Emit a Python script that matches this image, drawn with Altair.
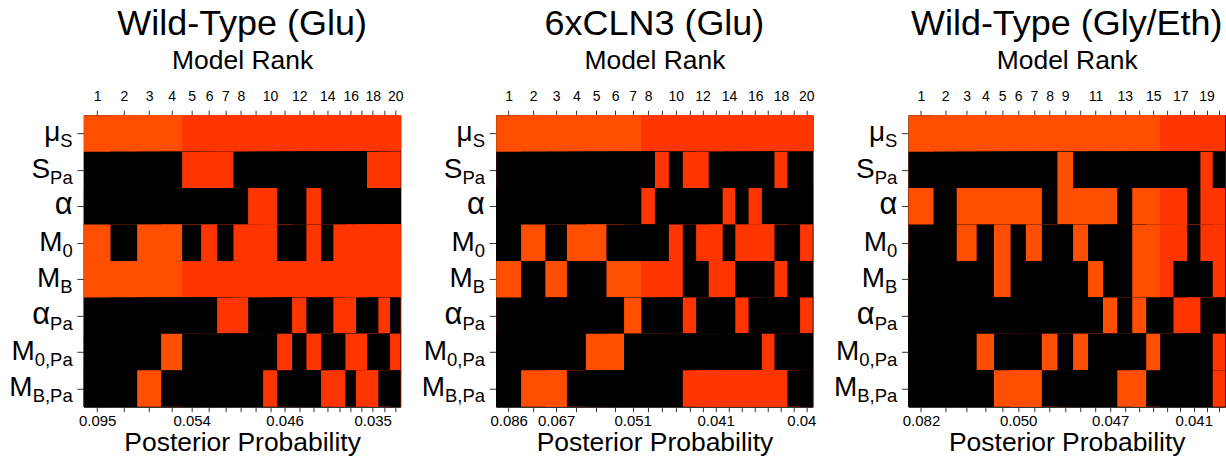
import altair as alt
import pandas as pd

FONT = "Liberation Sans"

# ---------------- data ----------------
param_ids = ["muS", "SPa", "alpha", "M0", "MB", "alphaPa", "M0Pa", "MBPa"]
param_main = ["μ", "S", "α", "M", "M", "α", "M", "M"]
param_sub = ["S", "Pa", "", "0", "B", "Pa", "0,Pa", "B,Pa"]

titles = ["Wild-Type (Glu)", "6xCLN3 (Glu)", "Wild-Type (Gly/Eth)"]

# relative column weights (posterior weight of each ranked model, as drawn)
weights = [
    [80, 80, 72, 63, 57, 48, 49, 44, 45, 42, 45, 43, 44, 37, 36, 32, 33, 34, 35, 31],
    [75, 73, 65, 57, 62, 53, 52, 41, 42, 42, 40, 38, 42, 38, 40, 40, 38, 39, 38, 38],
    [75, 70, 60, 52, 50, 46, 48, 47, 47, 45, 45, 43, 45, 42, 42, 40, 41, 40, 37, 37],
]

# visible model-rank tick labels
rank_labels = [
    ["1", "2", "3", "4", "5", "6", "7", "8", "", "10", "", "12", "", "14", "", "16", "", "18", "", "20"],
    ["1", "2", "3", "4", "5", "6", "7", "8", "", "10", "", "12", "", "14", "", "16", "", "18", "", "20"],
    ["1", "2", "3", "4", "5", "6", "7", "8", "9", "", "11", "", "13", "", "15", "", "17", "", "19", ""],
]

# visible posterior probability tick labels
prob_labels = [
    ["0.095", "", "", "", "0.054", "", "", "", "", "", "0.046", "", "", "", "", "", "", "0.035", "", ""],
    ["0.086", "", "0.067", "", "", "", "0.051", "", "", "", "", "", "0.041", "", "", "", "", "", "", "0.04"],
    ["0.082", "", "", "", "", "0.050", "", "", "", "", "", "0.047", "", "", "", "", "", "0.041", "", ""],
]

# inclusion of each parameter (rows) in each ranked model (columns)
inclusion = [
    [
        "11111111111111111111",
        "00001110000000000111",
        "00000000110010000000",
        "10110101110010111111",
        "11111111111111111111",
        "00000011000100110010",
        "00010000001010011001",
        "00100000010001101100",
    ],
    [
        "11111111111111111111",
        "00000000101100000100",
        "00000001000001010000",
        "01011000010110111001",
        "10100111110011000100",
        "00000010001000100001",
        "00001100000000001000",
        "01100000001111111100",
    ],
    [
        "11111111111111111111",
        "00000000100000000010",
        "10111110111101111011",
        "00101010010001111011",
        "00001000001001110001",
        "00000000000101001100",
        "00010001010000100001",
        "00001110000011000001",
    ],
]

# number of top models in the higher-odds colour group
top_group = [4, 7, 15]

COL_LIGHT = "#ff4e00"
COL_DARK = "#ff3500"

# char widths (em) for Liberation Sans, used to place subscripts
CW = {"S": 0.667, "P": 0.667, "a": 0.556, "0": 0.556, "B": 0.667, ",": 0.278}

MAIN_FS = 28
GREEK_FS = 31
SUB_FS = 18.5
LABEL_GAP = 11.2

W, H = 317, 292
NROW = len(param_ids)


def label_expr(values, labels):
    vs = ",".join(repr(float(v)) for v in values)
    ls = ",".join("'" + s + "'" for s in labels)
    return f"[{ls}][indexof([{vs}], datum.value)]"


panels = []
for k in range(3):
    w = weights[k]
    x0, acc = [], 0
    for v in w:
        x0.append(acc)
        acc += v
    total = acc
    centers = [x0[i] + w[i] / 2 for i in range(20)]

    # cells drawn in reading order; each one extends to the right/bottom edge and
    # is overdrawn by the following cells (avoids anti-aliasing seams)
    rows = []
    for r, pid in enumerate(param_ids):
        for c in range(20):
            inc = inclusion[k][r][c] == "1"
            lvl = "none" if not inc else ("hi" if c < top_group[k] else "lo")
            rows.append({"param": pid, "rank": c + 1, "x0": x0[c], "xe": total,
                         "y0": r, "ye": NROW, "level": lvl, "ord": r * 20 + c})
    df = pd.DataFrame(rows)

    xscale = alt.Scale(domain=[0, total], nice=False, zero=False)
    yscale = alt.Scale(domain=[0, NROW], nice=False, zero=False, reverse=True)
    yaxis = alt.Axis(values=[r + 0.5 for r in range(NROW)], labels=False, title=None, tickSize=7,
                     tickColor="#333", domain=True, domainColor="#222", grid=False)
    cscale = alt.Scale(domain=["none", "hi", "lo"], range=["#000000", COL_LIGHT, COL_DARK])

    rect = alt.Chart(df).mark_rect().encode(
        x=alt.X("x0:Q", scale=xscale,
                axis=alt.Axis(orient="top", values=centers, labelExpr=label_expr(centers, rank_labels[k]),
                              title="Model Rank", titleFontSize=26.5, titleFontWeight="normal",
                              titlePadding=15, labelFontSize=14, labelPadding=7, tickSize=5,
                              tickColor="#333", domainColor="#222", labelColor="black",
                              titleColor="black", grid=False, labelOverlap=False, labelFlush=False)),
        x2="xe:Q",
        y=alt.Y("y0:Q", scale=yscale, axis=yaxis),
        y2="ye:Q",
        color=alt.Color("level:N", scale=cscale, legend=None),
        order=alt.Order("ord:Q"),
    )

    # the last label sits against the figure edge (clipped in the original)
    last_shift = -5 if prob_labels[k][-1] else 0
    cdf = pd.DataFrame({"c": centers, "p": prob_labels[k]})
    bottom = alt.Chart(cdf).mark_point(opacity=0).encode(
        x=alt.X("c:Q", scale=xscale,
                axis=alt.Axis(orient="bottom", values=centers, labelExpr=label_expr(centers, prob_labels[k]),
                              title="Posterior Probability", titleFontSize=26.5, titleFontWeight="normal",
                              titlePadding=1, labelFontSize=15, labelPadding=2, tickSize=5,
                              labelOffset={"condition": {"test": f"datum.value == {float(centers[-1])}",
                                                         "value": last_shift}, "value": 0},
                              tickColor="#333", domainColor="#222", labelColor="black",
                              titleColor="black", grid=False, labelOverlap=False, labelFlush=False)),
    )

    pdf = pd.DataFrame({"param": param_ids, "main": param_main, "sub": param_sub,
                        "yc": [r + 0.5 for r in range(NROW)]})
    layers = [rect, bottom]
    for r, pid in enumerate(param_ids):
        subw = sum(CW[ch] for ch in param_sub[r]) * SUB_FS
        xm = -LABEL_GAP - subw
        fs = GREEK_FS if param_main[r] in ("α",) else MAIN_FS
        yenc = alt.Y("yc:Q", scale=yscale, axis=yaxis)
        layers.append(
            alt.Chart(pdf).transform_filter(alt.datum.param == pid)
            .mark_text(align="right", baseline="alphabetic", fontSize=fs, dy=8, font=FONT, color="black")
            .encode(y=yenc, x=alt.value(xm), text="main:N")
        )
        if param_sub[r]:
            layers.append(
                alt.Chart(pdf).transform_filter(alt.datum.param == pid)
                .mark_text(align="left", baseline="alphabetic", fontSize=SUB_FS, dy=14, font=FONT, color="black")
                .encode(y=yenc, x=alt.value(xm), text="sub:N")
            )

    panel = alt.layer(*layers).resolve_axis(x="independent").properties(
        width=W, height=H,
        title=alt.TitleParams(titles[k], fontSize=36, fontWeight="normal", anchor="middle",
                              offset=4, font=FONT, color="black"),
    )
    panels.append(panel)

chart = alt.hconcat(*panels, spacing=96).properties(
    bounds="flush", padding={"left": 8, "top": 5, "right": 0, "bottom": 0}
).configure(font=FONT).configure_view(stroke="#222", strokeWidth=1)

chart.save("out.html", embed_options={"renderer": "svg", "actions": False})
